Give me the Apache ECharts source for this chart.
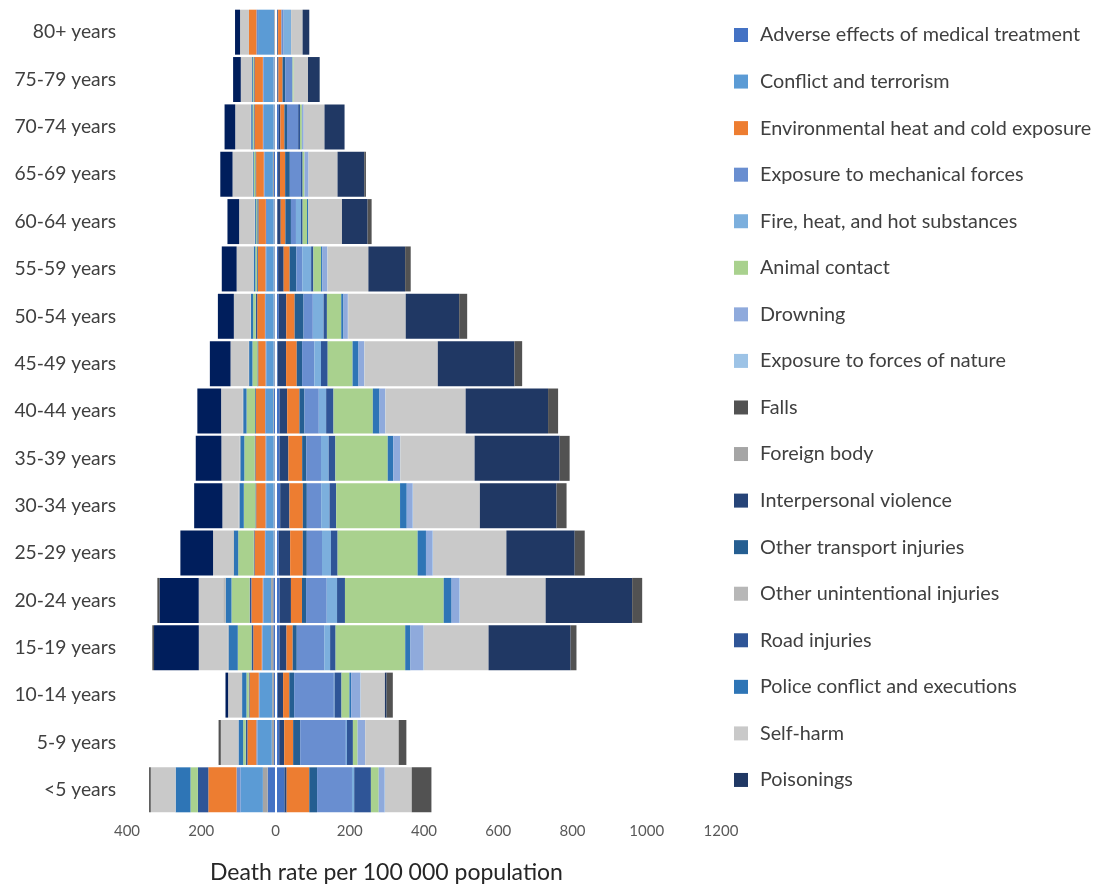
<!DOCTYPE html>
<html>
<head>
<meta charset="utf-8">
<script src="https://cdn.jsdelivr.net/npm/echarts@6/dist/echarts.min.js"></script>
<style>
html,body{margin:0;padding:0;background:#fff;}
#chart{width:1105px;height:885px;}
</style>
</head>
<body>
<div id="chart"></div>
<script>
// Categories (bottom to top)
const categories = ['<5 years','5-9 years','10-14 years','15-19 years','20-24 years','25-29 years','30-34 years','35-39 years','40-44 years','45-49 years','50-54 years','55-59 years','60-64 years','65-69 years','70-74 years','75-79 years','80+ years'];
const xTicks = [-400,-200,0,200,400,600,800,1000,1200];
const legendNames = ['Adverse effects of medical treatment','Conflict and terrorism','Environmental heat and cold exposure','Exposure to mechanical forces','Fire, heat, and hot substances','Animal contact','Drowning','Exposure to forces of nature','Falls','Foreign body','Interpersonal violence','Other transport injuries','Other unintentional injuries','Road injuries','Police conflict and executions','Self-harm','Poisonings'];

// Right-hand side (stacked outward from 0)
const rAdverse       = [24, 10, 6.5, 11, 11, 9, 12.6, 10.8, 10.8, 6, 9, 7, 5, 7, 9, 5, 5];
const rInterpersonal = [6, 13.5, 14, 18.6, 30.6, 30.5, 25, 24, 20.7, 22.5, 20, 15, 9, 5, 4, 3, 2];
const rEnvironmental = [61, 24, 16.7, 16.7, 29.7, 34, 36, 37, 33, 28.7, 22.5, 16, 12.6, 14, 11, 11, 9];
const rOtherTransport= [21, 19, 13, 11, 11, 10.8, 10.8, 10.8, 13.5, 14.4, 24, 18, 15, 12.6, 7, 7, 0];
const rMechanical    = [94, 123, 107, 74, 55.7, 41, 38.6, 40, 38.6, 33, 25, 16, 13.5, 30, 30, 20, 6];
const rFire          = [6, 3, 2, 15.8, 27.8, 24, 22.5, 20.7, 19.8, 18, 29, 24, 13.5, 0, 0, 0, 20];
const rRoad          = [45, 16, 18.6, 14.8, 21.3, 18, 18, 18, 19.8, 18, 9, 6, 4.5, 4.5, 5, 0, 0];
const rAnimal        = [21, 12.6, 21.3, 187.5, 266, 215.5, 172, 141, 106, 67, 38.6, 20.7, 11.7, 5, 5, 3, 0];
const rPolice        = [0, 0, 4.6, 14, 21.3, 22.5, 18, 15, 18, 16, 6, 3, 3.6, 0, 0, 0, 0];
const rDrowning      = [16, 20.7, 25, 34, 21.3, 18, 16, 18, 15, 15, 11.7, 13.5, 0, 11, 5, 0, 0];
const rForces        = [1, 0, 1, 2, 1, 1, 1, 1, 1, 1, 1, 1, 0, 0, 0, 0, 0];
const rSelfHarm      = [72, 90, 65, 174.5, 231, 197.6, 180, 200, 216, 197.6, 155, 110, 90.7, 78, 56, 38.6, 31];
const rPoisonings    = [0, 0, 4.6, 221, 233, 184, 206.5, 229, 222, 206.5, 144, 99, 69, 72, 54, 31.4, 18];
const rFalls         = [53, 20.7, 16.7, 15.8, 27, 27, 27, 27, 27, 20.7, 21.5, 15, 10.8, 4.5, 0, 0, 0];

// Left-hand side (magnitudes, stacked outward from 0)
const lAdverse       = [21, 4, 4, 6, 6, 3, 3, 3, 4, 3, 3, 3, 3, 4, 3, 3, 2];
const lForeign       = [13, 6, 5, 6, 6, 2, 2, 2, 2, 2, 2, 2, 2, 3, 2, 2, 2];
const lConflict      = [60, 38.6, 34, 23, 20.4, 21.5, 20, 20, 20, 19.8, 21.5, 20, 18, 22.5, 27, 27, 43];
const lMechanical    = [11, 3, 2, 2, 2, 2, 2, 2, 2, 2, 2, 2, 3, 2, 2, 2, 4.5];
const lEnvironmental = [76, 24, 25, 23, 30.6, 28, 25, 27, 25, 19.8, 20.7, 20.7, 20, 20.7, 22.5, 22.5, 20];
const lRoad          = [28, 4.5, 2, 4.6, 4.6, 2, 2, 2, 2, 2, 4, 2, 3, 2, 2, 2, 0];
const lAnimal        = [20, 7, 6.3, 37, 49, 42, 31.4, 28, 23, 13.5, 7, 4.5, 3, 4.5, 3, 2, 0];
const lPolice        = [40, 12.6, 11.7, 25, 15.8, 11.7, 11.7, 10.8, 9, 9, 6, 4.5, 3, 2, 4, 2.5, 0];
const lOtherUnint    = [0, 0, 0, 3, 6.5, 2, 2, 2, 2, 1, 1, 1, 1, 1, 1, 0, 0];
const lSelfHarm      = [67, 47.6, 37.7, 77, 65.9, 54, 44, 49, 57.5, 49, 45, 45, 42, 54, 42, 30.5, 24];
const lPoisonings    = [0, 0, 7, 120.6, 105.8, 88, 76, 69, 64, 55.7, 43, 40, 31.4, 33, 28.7, 20.7, 13.5];
const lFalls         = [4.5, 6, 0, 4.6, 5.6, 0, 0, 0, 0, 0, 0, 0, 0, 0, 0, 0, 0];

const colors = {
  'Adverse effects of medical treatment':'#4472C4',
  'Conflict and terrorism':'#5B9BD5',
  'Environmental heat and cold exposure':'#ED7D31',
  'Exposure to mechanical forces':'#698ED0',
  'Fire, heat, and hot substances':'#7CAFDD',
  'Animal contact':'#A9D18E',
  'Drowning':'#8FAADC',
  'Exposure to forces of nature':'#9DC3E6',
  'Falls':'#525252',
  'Foreign body':'#A5A5A5',
  'Interpersonal violence':'#264478',
  'Other transport injuries':'#255E91',
  'Other unintentional injuries':'#B7B7B7',
  'Road injuries':'#2F5597',
  'Police conflict and executions':'#2E75B6',
  'Self-harm':'#C9C9C9',
  'Poisonings':'#203864'
};

const rightSeries = [
  ['Adverse effects of medical treatment', rAdverse],
  ['Interpersonal violence', rInterpersonal],
  ['Environmental heat and cold exposure', rEnvironmental],
  ['Other transport injuries', rOtherTransport],
  ['Exposure to mechanical forces', rMechanical],
  ['Fire, heat, and hot substances', rFire],
  ['Road injuries', rRoad],
  ['Animal contact', rAnimal],
  ['Police conflict and executions', rPolice],
  ['Drowning', rDrowning],
  ['Exposure to forces of nature', rForces],
  ['Self-harm', rSelfHarm],
  ['Poisonings', rPoisonings],
  ['Falls', rFalls]
];
const leftSeries = [
  ['Adverse effects of medical treatment', lAdverse],
  ['Foreign body', lForeign],
  ['Conflict and terrorism', lConflict],
  ['Exposure to mechanical forces', lMechanical],
  ['Environmental heat and cold exposure', lEnvironmental],
  ['Road injuries', lRoad],
  ['Animal contact', lAnimal],
  ['Police conflict and executions', lPolice],
  ['Other unintentional injuries', lOtherUnint],
  ['Self-harm', lSelfHarm],
  ['Poisonings', lPoisonings, '#001E5C'],
  ['Falls', lFalls]
];

function mk(name, data, color) {
  return {
    name: name, type: 'bar', stack: 'all', data: data,
    barCategoryGap: '5%',
    itemStyle: { color: color || colors[name] },
    emphasis: { disabled: true },
    animation: false
  };
}
const series = [];
rightSeries.forEach(s => series.push(mk(s[0], s[1], s[2])));
leftSeries.forEach(s => series.push(mk(s[0], s[1].map(v => -v), s[2])));
series[0].markLine = {
  silent: true, symbol: ['none','none'], animation: false,
  label: { show: false },
  lineStyle: { color: '#ffffff', width: 2, type: 'solid' },
  data: [{ xAxis: 0 }]
};

const chart = echarts.init(document.getElementById('chart'), null, { renderer: 'canvas' });
chart.setOption({
  backgroundColor: '#ffffff',
  textStyle: { fontFamily: 'Lato' },
  animation: false,
  grid: { left: 127, right: 384, top: 8.5, bottom: 71.5, containLabel: false },
  legend: {
    data: legendNames,
    orient: 'vertical',
    left: 729, top: 19,
    itemWidth: 14, itemHeight: 14, itemGap: 24.56,
    icon: 'rect',
    textStyle: { fontFamily: 'Lato', fontSize: 19.8, color: '#404040', lineHeight: 22, padding: [0,0,0,7] }
  },
  xAxis: {
    type: 'value', min: xTicks[0], max: xTicks[xTicks.length-1], interval: 200,
    axisLine: { show: false }, axisTick: { show: false }, splitLine: { show: false },
    axisLabel: { color: '#595959', fontSize: 15, fontFamily: 'Lato', margin: 10,
      formatter: v => String(Math.abs(v)) }
  },
  yAxis: {
    type: 'category', data: categories,
    axisLine: { show: false }, axisTick: { show: false }, splitLine: { show: false },
    axisLabel: { color: '#404040', fontSize: 19.3, fontFamily: 'Lato', margin: 11 }
  },
  graphic: [{
    type: 'text', left: 210, top: 861,
    style: { text: 'Death rate per 100 000 population', fontFamily: 'Lato', fontSize: 23, fill: '#262626' }
  }],
  series: series
});
</script>
</body>
</html>
